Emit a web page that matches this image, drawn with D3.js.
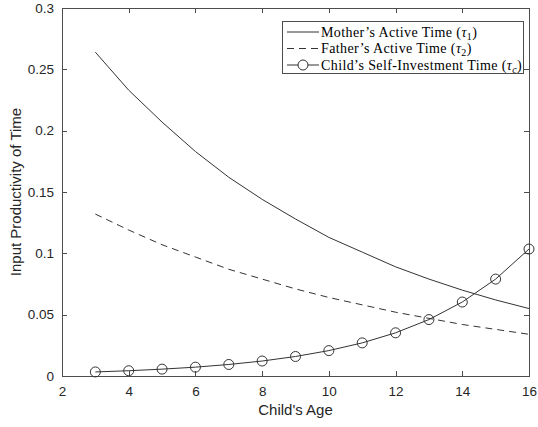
<!DOCTYPE html>
<html><head><meta charset="utf-8">
<script src="https://cdn.jsdelivr.net/npm/d3@7"></script>
<style>
body{margin:0;background:#fff;}
svg{display:block;}
</style></head>
<body>
<svg id="chart" width="538" height="427"></svg>
<script>
const ages = [3,4,5,6,7,8,9,10,11,12,13,14,15,16];
const mother = [0.264,0.233,0.207,0.183,0.162,0.144,0.128,0.113,0.101,0.089,0.079,0.070,0.062,0.055];
const father = [0.132,0.119,0.107,0.097,0.087,0.079,0.071,0.064,0.058,0.052,0.047,0.042,0.038,0.034];
const child  = [0.0033,0.0043,0.0056,0.0072,0.0094,0.0122,0.0159,0.0207,0.0270,0.0352,0.0460,0.0603,0.0790,0.1035];
const xTicks = [2,4,6,8,10,12,14,16];
const yTicks = [0,0.05,0.1,0.15,0.2,0.25,0.3];
const yTickLabels = ["0","0.05","0.1","0.15","0.2","0.25","0.3"];
const legendLabels = ["Mother\u2019s Active Time (", "Father\u2019s Active Time (", "Child\u2019s Self-Investment Time ("];
const legendSubs = ["1","2","c"];

const svg = d3.select("#chart");
const L=62, R=529, T=8, B=376;
const x = d3.scaleLinear().domain([2,16]).range([L,R]);
const y = d3.scaleLinear().domain([0,0.3]).range([B,T]);
const axisCol = "#4d4d4d", textCol = "#262626", lineCol = "#333";
const font = "'Liberation Sans', Arial, sans-serif";

// box
svg.append("rect").attr("x",L).attr("y",T).attr("width",R-L).attr("height",B-T)
  .attr("fill","none").attr("stroke",axisCol).attr("stroke-width",1).attr("shape-rendering","crispEdges");

const tl = 5;
const gx = svg.append("g").attr("transform",`translate(0,${B})`)
  .call(d3.axisBottom(x).tickValues(xTicks).tickSize(-tl).tickPadding(10).tickFormat(d3.format("d")));
const gxTop = svg.append("g").attr("transform",`translate(0,${T})`)
  .call(d3.axisTop(x).tickValues(xTicks).tickSize(-tl).tickFormat(""));
const gy = svg.append("g").attr("transform",`translate(${L},0)`)
  .call(d3.axisLeft(y).tickValues(yTicks).tickSize(-tl).tickPadding(8).tickFormat((d,i)=>yTickLabels[i]));
const gyR = svg.append("g").attr("transform",`translate(${R},0)`)
  .call(d3.axisRight(y).tickValues(yTicks).tickSize(-tl).tickFormat(""));
[gx,gxTop,gy,gyR].forEach(g=>{
  g.select(".domain").remove();
  g.selectAll(".tick line").attr("stroke",axisCol).attr("shape-rendering","crispEdges");
  g.selectAll("text").attr("fill",textCol).style("font-family",font).style("font-size","13.5px");
});

// axis titles
svg.append("text").attr("x",(L+R)/2).attr("y",415).attr("text-anchor","middle")
  .attr("fill",textCol).style("font-family",font).style("font-size","15px").text("Child's Age");
svg.append("text").attr("transform",`translate(21,${(T+B)/2}) rotate(-90)`).attr("text-anchor","middle")
  .attr("fill",textCol).style("font-family",font).style("font-size","15px").text("Input Productivity of Time");

const line = d3.line().x((d,i)=>x(ages[i])).y(d=>y(d));
svg.append("path").datum(mother).attr("d",line).attr("fill","none").attr("stroke",lineCol).attr("stroke-width",1);
svg.append("path").datum(father).attr("d",line).attr("fill","none").attr("stroke",lineCol).attr("stroke-width",1).attr("stroke-dasharray","7,5");
svg.append("path").datum(child).attr("d",line).attr("fill","none").attr("stroke",lineCol).attr("stroke-width",1);
svg.selectAll("circle.pt").data(child).enter().append("circle").attr("class","pt")
  .attr("cx",(d,i)=>x(ages[i])).attr("cy",d=>y(d)).attr("r",5)
  .attr("fill","none").attr("stroke",lineCol).attr("stroke-width",1);

// legend
const lg = svg.append("g");
lg.append("rect").attr("x",282.5).attr("y",21.5).attr("width",241).attr("height",52)
  .attr("fill","#fff").attr("stroke",axisCol).attr("stroke-width",1);
const rows=[32,48.5,65];
const serif = "'Liberation Serif','DejaVu Serif',serif";
rows.forEach((ry,i)=>{
  const ln = lg.append("line").attr("x1",287).attr("x2",319).attr("y1",ry).attr("y2",ry)
    .attr("stroke",lineCol).attr("stroke-width",1);
  if(i===1) ln.attr("stroke-dasharray","7,5");
  if(i===2) lg.append("circle").attr("cx",303).attr("cy",ry).attr("r",5).attr("fill","#fff").attr("stroke",lineCol);
  const t = lg.append("text").attr("x",321).attr("y",ry+4.5).attr("fill","#000")
    .style("font-family",serif).style("font-size","14px").style("letter-spacing","0.4px");
  t.append("tspan").text(legendLabels[i]);
  t.append("tspan").style("font-style","italic").text("\u03c4");
  t.append("tspan").attr("dy",3).style("font-size","10px").style("font-style",i===2?"italic":"normal").text(legendSubs[i]);
  t.append("tspan").attr("dy",-3).text(")");
});
</script>
</body></html>
